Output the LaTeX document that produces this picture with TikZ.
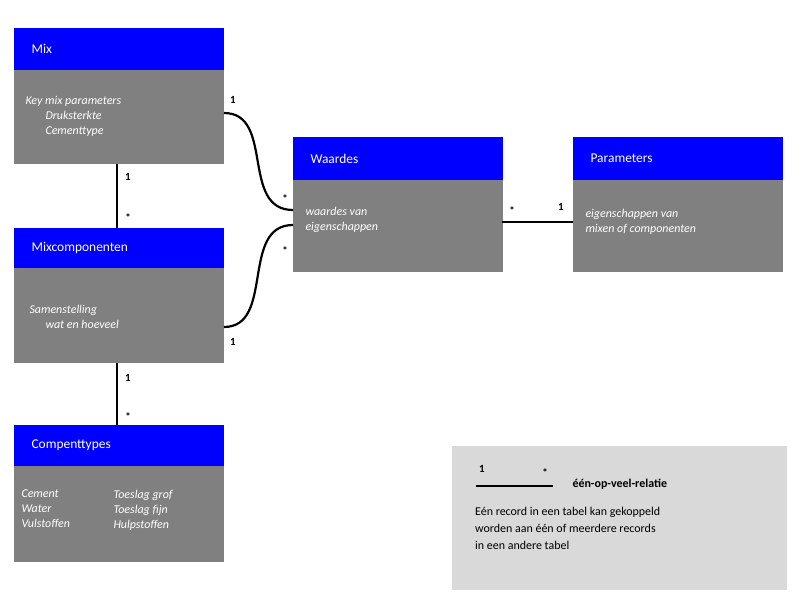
\documentclass[tikz,border=0pt]{standalone}
\usepackage{fontspec}
\setmainfont{Carlito}
\begin{document}
\begin{tikzpicture}[x=1bp,y=-1bp,
  hdr/.style={fill=blue!100!black, draw=none},
  bodyf/.style={fill=gray!100!white},
  htext/.style={text=white,font=\fontsize{13.5}{16}\selectfont,anchor=west},
  btext/.style={text=white,font=\fontsize{12}{16}\selectfont\itshape,anchor=west,align=left},
  card/.style={font=\fontsize{11}{13}\selectfont\bfseries},
  conn/.style={line width=2.2pt}]
\definecolor{hblue}{RGB}{0,0,255}
\definecolor{bgray}{RGB}{128,128,128}
\definecolor{lgray}{RGB}{217,217,217}
\useasboundingbox (0,0) rectangle (800,600);
\fill[white] (0,0) rectangle (800,600);
% boxes
\newcommand{\umlbox}[6]{%
  \fill[hblue] (#1,#2) rectangle (#1+210,#3);
  \fill[bgray] (#1,#3) rectangle (#1+210,#4);
  \node[htext] (#5) at (#1+14,{(#2+#3)/2}) {#6};
  \coordinate (#5-nw) at (#1,#2);
}
\umlbox{14}{28}{70}{164}{mix}{Mix}
\umlbox{14}{228}{268}{363}{mc}{Mixcomponenten}
\umlbox{14}{425}{466}{562}{ct}{Compenttypes}
\umlbox{293}{137}{180}{272}{wa}{Waardes}
\umlbox{573}{137}{180}{272}{pa}{Parameters}
\node[btext] (mixb) at (22,116) {Key mix parameters\\[-1pt]\hspace{20bp}Druksterkte\\[-1pt]\hspace{20bp}Cementtype};
\node[btext] (mcb) at (26,317) {Samenstelling\\[-1pt]\hspace{16bp}wat en hoeveel};
\node[btext] (ctb1) at (18,509) {Cement\\[-1pt]Water\\[-1pt]Vulstoffen};
\node[btext] (ctb2) at (110,510) {Toeslag grof\\[-1pt]Toeslag fijn\\[-1pt]Hulpstoffen};
\node[btext] (wab) at (302,220) {waardes van\\[-1pt]eigenschappen};
\node[btext] (pab) at (582,222) {eigenschappen van\\[-1pt]mixen of componenten};
% connection points
\coordinate (a1) at (117,164); \coordinate (a2) at (117,228);
\coordinate (b1) at (117,363); \coordinate (b2) at (117,425);
\coordinate (c1) at (224,113); \coordinate (c2) at (293,210);
\coordinate (d1) at (224,327); \coordinate (d2) at (293,225);
\coordinate (e1) at (502,222); \coordinate (e2) at (573,222);
\draw[conn] (a1) -- (a2);
\draw[conn] (b1) -- (b2);
\draw[conn] (c1) .. controls (275,113) and (240,210) .. (c2);
\draw[conn] (d1) .. controls (275,327) and (240,225) .. (d2);
\draw[conn] (e1) -- (e2);
\node[card] (l1) at (128,177) {1}; \node[card] (l2) at (128,218) {*};
\node[card] (l3) at (128,378) {1}; \node[card] (l4) at (128,417) {*};
\node[card] (l5) at (233,100) {1}; \node[card] (l6) at (285,199) {*};
\node[card] (l7) at (285,251) {*}; \node[card] (l8) at (233,342) {1};
\node[card] (l9) at (512,211) {*}; \node[card] (l10) at (561,207) {1};
% legend
\fill[lgray] (452,446) rectangle (787,590);
\coordinate (g1) at (476,486); \coordinate (g2) at (553,486);
\draw[conn] (g1) -- (g2);
\node[card] (g3) at (482,469) {1}; \node[card] (g4) at (545,473) {*};
\node[font=\fontsize{12}{14}\selectfont\bfseries,anchor=west] (g5) at (569,484) {één-op-veel-relatie};
\node[font=\fontsize{12}{17.3}\selectfont,anchor=north west,align=left,inner sep=0pt] (g6) at (475,507) {Eén record in een tabel kan gekoppeld\\worden aan één of meerdere records\\in een andere tabel};
\end{tikzpicture}
\end{document}
